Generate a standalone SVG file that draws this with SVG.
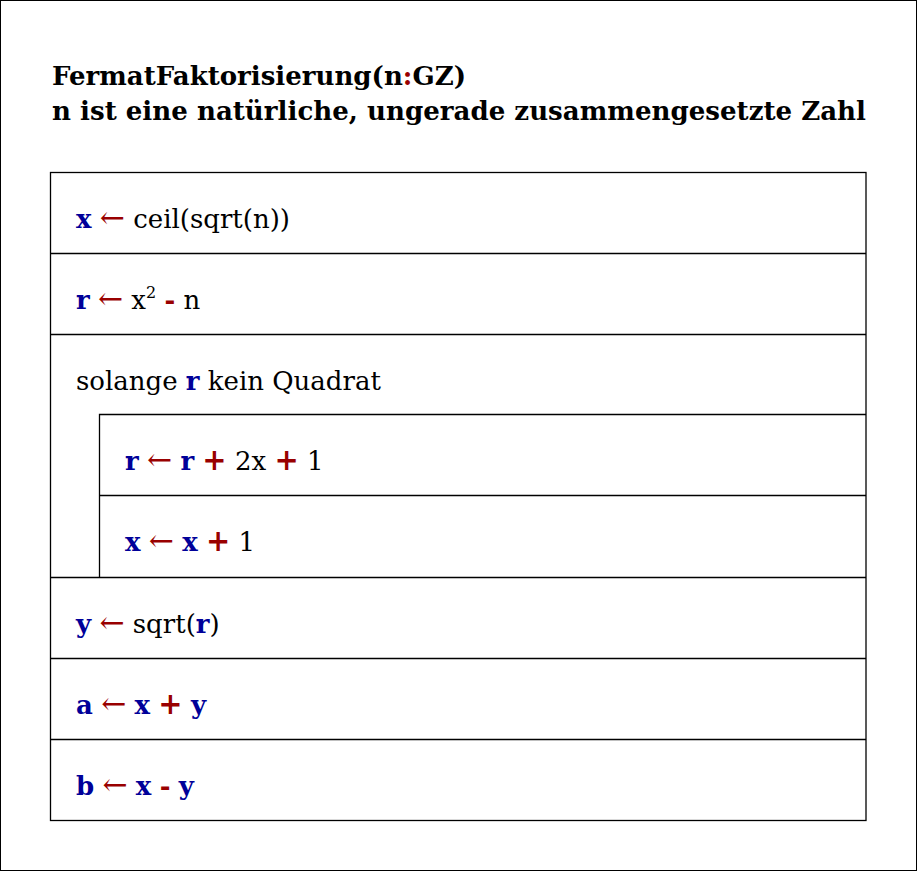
<svg xmlns="http://www.w3.org/2000/svg" width="917" height="871" viewBox="0 0 917 871">
<style>
.t{font-family:"DejaVu Serif","Liberation Serif",serif;font-size:26px;fill:#000}
.h{font-family:"DejaVu Serif","Liberation Serif",serif;font-size:26px;font-weight:bold;fill:#000}
.v{fill:#000099;font-weight:bold}
.o{fill:#990000;font-weight:bold}
.p{fill:#990000;font-weight:bold;font-size:29px}
.a{fill:#990000;font-size:30px}
.ln{fill:none;stroke:#000;stroke-width:1.3}
</style>
<rect x="0.5" y="0.5" width="916" height="870" fill="#fff" stroke="#000" stroke-width="1"/>
<g id="title">
<text class="h" x="52" y="85" textLength="414" lengthAdjust="spacingAndGlyphs">FermatFaktorisierung(n<tspan fill="#990000">:</tspan>GZ)</text>
<text class="h" x="52" y="120" textLength="814" lengthAdjust="spacingAndGlyphs">n ist eine natürliche, ungerade zusammengesetzte Zahl</text>
</g>
<g id="frame">
<rect class="ln" x="50.5" y="172.5" width="815.5" height="648"/>
<line class="ln" x1="50.5" y1="253.5" x2="866" y2="253.5"/>
<line class="ln" x1="50.5" y1="334.5" x2="866" y2="334.5"/>
<line class="ln" x1="50.5" y1="577.5" x2="866" y2="577.5"/>
<line class="ln" x1="50.5" y1="658.5" x2="866" y2="658.5"/>
<line class="ln" x1="50.5" y1="739.5" x2="866" y2="739.5"/>
</g>
<g id="s1"><text class="t" x="76" y="228"><tspan class="v">x</tspan> <tspan class="a">←</tspan> ceil(sqrt(n))</text></g>
<g id="s2"><text class="t" x="76" y="309"><tspan class="v">r</tspan> <tspan class="a">←</tspan> x<tspan font-size="16" dy="-11">2</tspan><tspan dy="11"> </tspan><tspan class="o">-</tspan> n</text></g>
<g id="loop">
<text class="t" x="76" y="390">solange <tspan class="v">r</tspan> kein Quadrat</text>
<polyline class="ln" points="99.5,577.5 99.5,414.5 866,414.5"/>
<line class="ln" x1="99.5" y1="495.5" x2="866" y2="495.5"/>
</g>
<g id="s3"><text class="t" x="125" y="470"><tspan class="v">r</tspan> <tspan class="a">←</tspan> <tspan class="v">r</tspan> <tspan class="p">+</tspan> 2x <tspan class="p">+</tspan> 1</text></g>
<g id="s4"><text class="t" x="125" y="551"><tspan class="v">x</tspan> <tspan class="a">←</tspan> <tspan class="v">x</tspan> <tspan class="p">+</tspan> 1</text></g>
<g id="s5"><text class="t" x="76" y="633"><tspan class="v">y</tspan> <tspan class="a">←</tspan> sqrt(<tspan class="v">r</tspan>)</text></g>
<g id="s6"><text class="t" x="76" y="714"><tspan class="v">a</tspan> <tspan class="a">←</tspan> <tspan class="v">x</tspan> <tspan class="p">+</tspan> <tspan class="v">y</tspan></text></g>
<g id="s7"><text class="t" x="76" y="795"><tspan class="v">b</tspan> <tspan class="a">←</tspan> <tspan class="v">x</tspan> <tspan class="o">-</tspan> <tspan class="v">y</tspan></text></g>
</svg>
